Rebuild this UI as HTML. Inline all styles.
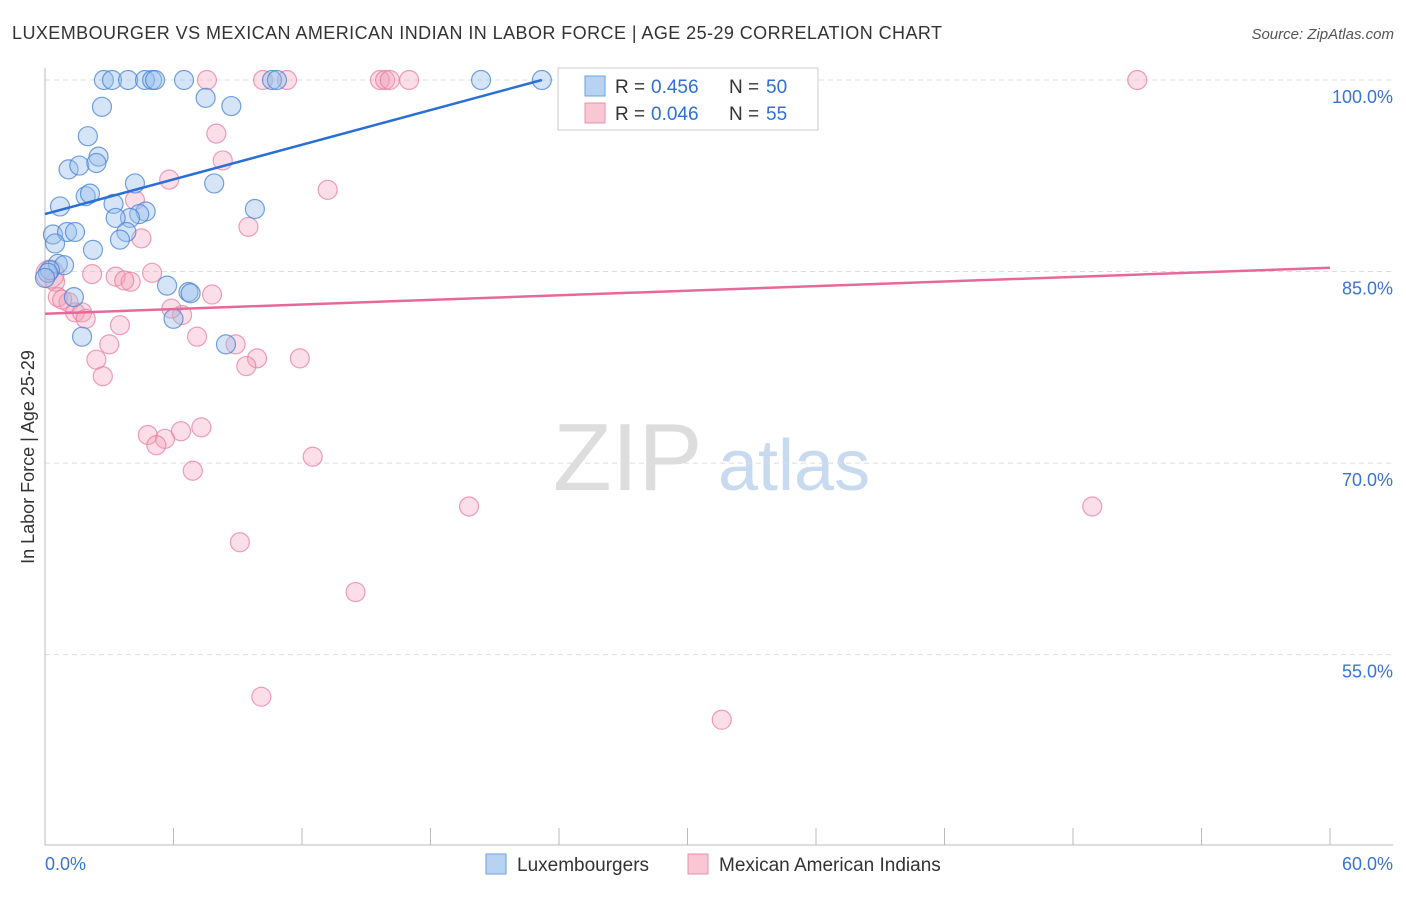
<!DOCTYPE html>
<html><head><meta charset="utf-8"><style>
body{margin:0;background:#fff;font-family:"Liberation Sans",sans-serif}
svg text{font-family:"Liberation Sans",sans-serif}
</style></head><body>
<svg id="c" width="1406" height="892" xmlns="http://www.w3.org/2000/svg">
<text x="12" y="39" font-size="18" fill="#333" textLength="930">LUXEMBOURGER VS MEXICAN AMERICAN INDIAN IN LABOR FORCE | AGE 25-29 CORRELATION CHART</text>
<text x="1394" y="39" font-size="15" fill="#555" font-style="italic" text-anchor="end">Source: ZipAtlas.com</text>
<text x="0" y="0" transform="translate(34,457) rotate(-90)" font-size="18" fill="#333" text-anchor="middle">In Labor Force | Age 25-29</text>
<g><text x="553" y="490" font-size="96" fill="#ddd" font-family="Liberation Serif">ZIP</text><text x="718" y="490" font-size="72" fill="#c8daf0">atlas</text></g>
<g id="grid"></g><g id="axes"></g><g id="pts"></g><g id="lines"></g>
<g>
<rect x="558" y="68" width="260" height="62" fill="#fff" stroke="#ccc"/>
<rect x="585" y="76" width="20" height="20" fill="#b8d3f2" stroke="#6a9fe0"/>
<rect x="585" y="103" width="20" height="20" fill="#f9c6d4" stroke="#ec8fac"/>
<text x="615" y="93" font-size="19" fill="#333">R =</text><text x="651" y="93" font-size="19" fill="#2f6fd6">0.456</text>
<text x="729" y="93" font-size="19" fill="#333">N =</text><text x="766" y="93" font-size="19" fill="#2f6fd6">50</text>
<text x="615" y="120" font-size="19" fill="#333">R =</text><text x="651" y="120" font-size="19" fill="#2f6fd6">0.046</text>
<text x="729" y="120" font-size="19" fill="#333">N =</text><text x="766" y="120" font-size="19" fill="#2f6fd6">55</text>
</g>
<g>
<rect x="486" y="854" width="20" height="20" fill="#b8d3f2" stroke="#6a9fe0"/>
<text x="517" y="871" font-size="19" fill="#333">Luxembourgers</text>
<rect x="688" y="854" width="20" height="20" fill="#f9c6d4" stroke="#ec8fac"/>
<text x="719" y="871" font-size="19" fill="#333">Mexican American Indians</text>
</g>
</svg>
<script>
const yTicks=[100,85,70,55];
const xTickLabels=["0.0%","60.0%"];
const blueX=[2.75,3.13,3.88,4.67,5.0,5.14,6.49,10.6,10.83,20.36,23.2,25.0,2.66,7.5,8.7,2.0,2.5,1.1,1.6,2.4,1.9,2.1,4.2,7.9,0.7,3.2,4.7,4.4,3.97,3.3,9.8,0.37,1.03,1.4,3.8,3.5,0.47,2.24,0.6,0.89,0.23,5.7,6.7,6.8,1.35,6.0,1.73,8.45,0.14,0.0];
const blueY=[100,100,100,100,100,100,100,100,100,100,100,100,97.9,98.6,97.96,95.6,94.0,93.0,93.3,93.5,90.9,91.1,91.9,91.9,90.1,90.3,89.7,89.5,89.2,89.2,89.9,87.9,88.1,88.1,88.1,87.5,87.2,86.7,85.6,85.5,85.1,83.9,83.4,83.3,83.0,81.3,79.9,79.3,84.9,84.5];
const pinkX=[7.56,10.18,11.3,15.64,15.88,16.1,17.0,26.85,28.6,51.0,8.0,8.3,13.2,5.8,4.2,9.5,4.5,2.2,3.3,5.0,4.0,3.7,7.8,0.47,0.23,0.6,1.1,1.4,1.73,6.4,5.9,7.1,3.5,3.0,8.9,2.4,9.9,9.4,11.9,2.7,4.8,5.6,5.2,6.35,7.3,6.9,12.5,19.8,48.9,9.1,14.5,10.1,31.6,1.9,0.8];
const pinkY=[100,100,100,100,100,100,100,100,100,100,95.8,93.7,91.4,92.2,90.6,88.5,87.6,84.8,84.6,84.9,84.2,84.3,83.2,84.2,84.8,83.0,82.6,81.8,81.8,81.6,82.1,79.9,80.8,79.3,79.3,78.1,78.2,77.6,78.2,76.8,72.2,71.9,71.4,72.5,72.8,69.4,70.5,66.6,66.6,63.8,59.9,51.7,49.9,81.3,82.8];
const pinkR=[9.5,9.5,9.5,9.5,9.5,9.5,9.5,9.5,9.5,9.5,9.5,9.5,9.5,9.5,9.5,9.5,9.5,9.5,9.5,9.5,9.5,9.5,9.5,9.5,14,9.5,9.5,9.5,9.5,9.5,9.5,9.5,9.5,9.5,9.5,9.5,9.5,9.5,9.5,9.5,9.5,9.5,9.5,9.5,9.5,9.5,9.5,9.5,9.5,9.5,9.5,9.5,9.5,9.5,9.5];
const blueLine=[[0,89.5],[23.2,100]];
const pinkLine=[[0,81.7],[60,85.3]];
const X=v=>45+v/60*1285, Y=v=>80+(100-v)*12.77;
const NS="http://www.w3.org/2000/svg";
function mk(p,t,a){const e=document.createElementNS(NS,t);for(const k in a)e.setAttribute(k,a[k]);p.appendChild(e);return e;}
const g=document.getElementById('grid'),ax=document.getElementById('axes'),pts=document.getElementById('pts'),ln=document.getElementById('lines');
yTicks.forEach(v=>{const l=mk(g,'line',{x1:45,x2:1393,y1:Y(v),y2:Y(v),stroke:'#ddd','stroke-dasharray':'5,4'});


const t=mk(g,'text',{x:1393,y:Y(v)+23,'font-size':18,fill:'#3a74d0','text-anchor':'end'});t.textContent=v.toFixed(1)+'%';

});
const la=mk(ax,'line',{x1:45,x2:45,y1:68,y2:845,stroke:'#bbb'});


const lb=mk(ax,'line',{x1:45,x2:1393,y1:845,y2:845,stroke:'#bbb'});


for(let i=0;i<=10;i++){const t=mk(ax,'line',{x1:X(i*6),x2:X(i*6),y1:828,y2:845,stroke:'#bbb'});

}
xTickLabels.forEach((s,i)=>{const t=mk(ax,'text',{x:i?1393:45,y:870,'font-size':18,fill:'#3a74d0','text-anchor':i?'end':'start'});t.textContent=s;

});
pinkX.forEach((v,i)=>{const c=mk(pts,'circle',{cx:X(v),cy:Y(pinkY[i]),r:pinkR[i],fill:'rgba(244,160,185,0.35)',stroke:'rgba(232,120,155,0.7)','stroke-width':1.2});

});
blueX.forEach((v,i)=>{const c=mk(pts,'circle',{cx:X(v),cy:Y(blueY[i]),r:9.5,fill:'rgba(150,190,235,0.4)',stroke:'rgba(70,130,215,0.75)','stroke-width':1.2});

});
const bl=mk(ln,'line',{x1:X(blueLine[0][0]),y1:Y(blueLine[0][1]),x2:X(blueLine[1][0]),y2:Y(blueLine[1][1]),stroke:'#2a6fd6','stroke-width':2.5});


const pl=mk(ln,'line',{x1:X(pinkLine[0][0]),y1:Y(pinkLine[0][1]),x2:X(pinkLine[1][0]),y2:Y(pinkLine[1][1]),stroke:'#e8689a','stroke-width':2.5});


</script>
</body></html>
